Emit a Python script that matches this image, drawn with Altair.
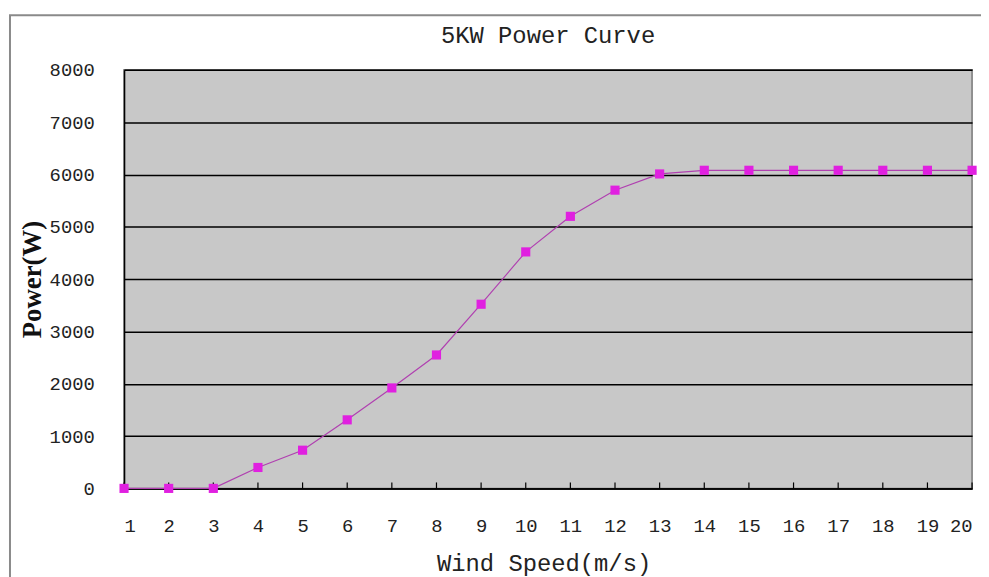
import altair as alt
import pandas as pd

wind_speed = list(range(1, 21))
power = [0, 0, 0, 400, 730, 1310, 1920, 2550, 3520, 4520, 5200, 5700, 6010,
         6080, 6080, 6080, 6080, 6080, 6080, 6080]

df = pd.DataFrame({"speed": wind_speed, "power": power})

W, H = 855, 422

xscale = alt.Scale(domain=[1, 20], nice=False, zero=False)
yscale = alt.Scale(domain=[0, 8000], nice=False)

base = alt.Chart(df)

frame = base.mark_rect(fill=None, stroke="#8a8a8a", strokeWidth=2).encode(
    x=alt.value(-115), x2=alt.value(900), y=alt.value(-55), y2=alt.value(600)
).transform_filter("datum.speed == 1")

line = base.mark_line(color="#b040b0", strokeWidth=1.2).encode(
    x=alt.X("speed:Q", scale=xscale,
            axis=alt.Axis(values=wind_speed, title="Wind Speed(m/s)", grid=False,
                          format="d",
                          tickSize=0, labelPadding=28, labelFontSize=19,
                          labelFont="Liberation Mono", labelColor="#222",
                          domainColor="#000", domainWidth=1.5,
                          titleFont="Liberation Mono", titleFontSize=24,
                          titleFontWeight="normal", titleColor="#222",
                          titleX=423, titleY=76, titleBaseline="middle")),
    y=alt.Y("power:Q", scale=yscale,
            axis=alt.Axis(values=list(range(0, 8001, 1000)), title="Power(W)",
                          format="d",
                          grid=True, gridColor="#000", gridWidth=1.5,
                          tickSize=0, labelPadding=30, labelFontSize=19,
                          labelFont="Liberation Mono", labelColor="#222",
                          domainColor="#000", domainWidth=1.5,
                          titleFont="Liberation Serif", titleFontSize=27,
                          titleFontWeight="bold", titleColor="#111",
                          titleX=-92, titleY=211, titleBaseline="middle",
                          titleAngle=270))
)

ticks = base.mark_rule(color="#000", strokeWidth=1.2).encode(
    x=alt.X("speed:Q", scale=xscale), y=alt.value(H - 6), y2=alt.value(H)
)

points = base.mark_square(color="#e020e0", opacity=1, size=85).encode(
    x=alt.X("speed:Q", scale=xscale),
    y=alt.Y("power:Q", scale=yscale),
)

chart = alt.layer(frame, line, ticks, points).properties(
    width=W, height=H,
    title=alt.TitleParams("5KW Power Curve", font="Liberation Mono", fontSize=24,
                          fontWeight="normal", color="#222", anchor="middle",
                          frame="group", offset=-34),
    autosize=alt.AutoSizeParams(type="none"),
    padding={"left": 117, "top": 60, "right": 9, "bottom": 87},
    background="white",
).configure_view(
    fill="#c8c8c8", stroke="#777", strokeWidth=1.5
)

chart.save("out.html", embed_options={"renderer": "svg", "actions": False})
